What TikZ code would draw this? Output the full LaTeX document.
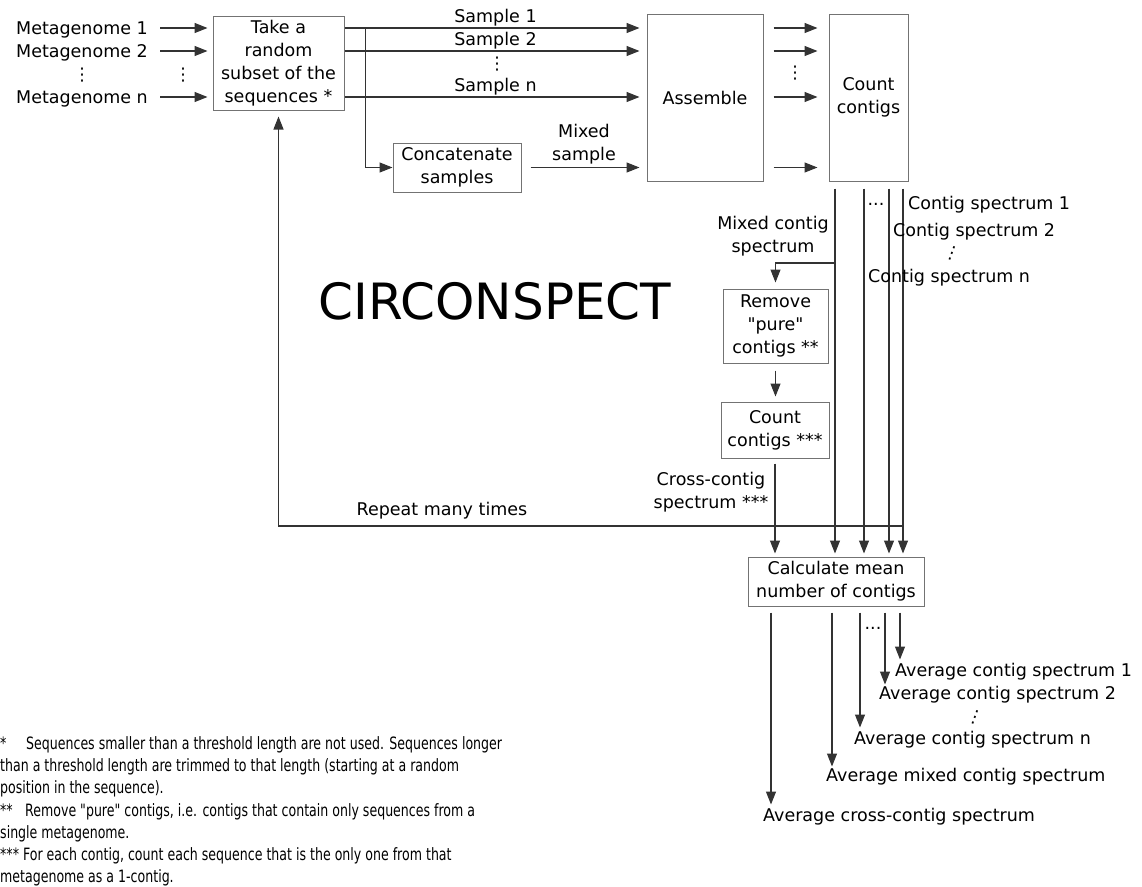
\documentclass[tikz,border=0pt]{standalone}
\usepackage{fontspec}
\setmainfont{DejaVu Sans}
\newfontfamily\notefont[FakeStretch=0.74]{DejaVu Sans}
\usetikzlibrary{arrows.meta}
\begin{document}
\begin{tikzpicture}[%
  x=1pt,
  y=-1pt,
  font=\fontsize{17.5}{23}\selectfont,
  boxstyle/.style={%
    rectangle,
    draw=black!55,
    line width=1pt,
    align=center,
    inner sep=0pt,
  },
  labelstyle/.style={%
    inner sep=0pt,
    align=center,
  },
  arrowstyle/.style={%
    draw=black!80,
    line width=1.1pt,
    -{Triangle[length=13pt,width=10pt]},
  }
]
  \useasboundingbox (0,0) rectangle (1142,886);

  \node [labelstyle, anchor=base east] (mg1) at (148,34.5) {Metagenome 1};
  \node [labelstyle, anchor=base east] (mg2) at (148,57.5) {Metagenome 2};
  \node [labelstyle, anchor=base east] (mgn) at (148,103.5) {Metagenome n};
  \node [labelstyle] (mgdots) at (82,75) {⋮};
  \node [labelstyle] (indots) at (183,75) {⋮};

  \node [boxstyle, minimum width=131pt, minimum height=94pt] (take) at (278.5,63)
    {Take a\\random\\subset of the\\sequences *};
  \node [boxstyle, minimum width=128pt, minimum height=49pt] (cat) at (457,167.5)
    {Concatenate\\samples};
  \node [boxstyle, minimum width=116pt, minimum height=167pt] (asm) at (705,97.5)
    {Assemble};
  \node [boxstyle, minimum width=79pt, minimum height=167pt] (cnt) at (868.5,97.5)
    {Count\\contigs};
  \node [boxstyle, minimum width=105pt, minimum height=74pt] (rem) at (775.5,326)
    {Remove\\\textquotedbl pure\textquotedbl\\contigs **};
  \node [boxstyle, minimum width=108pt, minimum height=56pt] (cc3) at (775,430)
    {Count\\contigs ***};
  \node [boxstyle, minimum width=176pt, minimum height=49pt] (calc) at (836,581.5)
    {Calculate mean\\number of contigs};

  \node [labelstyle, font=\fontsize{50}{60}\selectfont] (title) at (495,301) {CIRCONSPECT};

  \coordinate (r1) at (0,28);
  \coordinate (r2) at (0,51);
  \coordinate (rn) at (0,97);
  \draw [arrowstyle, shorten <=12pt, shorten >=5pt] (mg1.east |- r1) -- (take.west |- r1);
  \draw [arrowstyle, shorten <=12pt, shorten >=5pt] (mg2.east |- r2) -- (take.west |- r2);
  \draw [arrowstyle, shorten <=12pt, shorten >=5pt] (mgn.east |- rn) -- (take.west |- rn);

  \draw [arrowstyle, shorten >=7pt] (take.east |- r1) -- (asm.west |- r1)
    node [labelstyle, midway, above=1pt] (s1) {Sample 1};
  \draw [arrowstyle, shorten >=7pt] (take.east |- r2) -- (asm.west |- r2)
    node [labelstyle, midway, above=1pt] (s2) {Sample 2};
  \draw [arrowstyle, shorten >=7pt] (take.east |- rn) -- (asm.west |- rn)
    node [labelstyle, midway, above=1pt] (sn) {Sample n};
  \node [labelstyle] (sdots) at (497,64) {⋮};

  \coordinate (split) at ([xshift=21pt]take.east);
  \draw [arrowstyle] (split |- r1) |- (cat.west);
  \draw [arrowstyle, shorten <=9pt, shorten >=7pt] (cat.east) -- (asm.west |- cat.east)
    node [labelstyle, midway, above=3pt] (mixs) {Mixed\\sample};

  \foreach \r in {r1,r2,rn}
    \draw [arrowstyle, shorten <=10pt, shorten >=11pt] (asm.east |- \r) -- (cnt.west |- \r);
  \draw [arrowstyle, shorten <=10pt, shorten >=11pt] (asm.east |- cat.east) -- (cnt.west |- cat.east);
  \node [labelstyle] (adots) at (795,73) {⋮};

  \coordinate (cmix) at (835,0);
  \coordinate (cspn) at (864,0);
  \coordinate (csp2) at (889,0);
  \coordinate (csp1) at (903,0);
  \foreach \c in {cmix,cspn,csp2,csp1}
    \draw [arrowstyle, shorten <=7pt, shorten >=3pt] (cnt.south -| \c) -- (calc.north -| \c);

  \node [labelstyle] (cdots) at (876,204) {...};
  \node [labelstyle, anchor=base west] (cs1) at (908,209) {Contig spectrum 1};
  \node [labelstyle, anchor=base west] (cs2) at (893,236) {Contig spectrum 2};
  \node [labelstyle, rotate=-20] (csdots) at (952,253) {⋮};
  \node [labelstyle, anchor=base west] (csn) at (868,282) {Contig spectrum n};

  \node [labelstyle] (mixlbl) at (773,236) {Mixed contig\\spectrum};
  \coordinate (brk) at (835,263);
  \draw [arrowstyle, shorten >=6pt] (brk) -| (rem.north);
  \draw [arrowstyle, shorten <=7pt, shorten >=5pt] (rem.south) -- (rem.south |- cc3.north);
  \draw [arrowstyle, shorten <=5pt, shorten >=3pt] (cc3.south) -- (calc.north -| cc3.south);
  \node [labelstyle] (crosslbl) at (711,492) {Cross-contig\\spectrum ***};

  \coordinate (rep) at (0,526);
  \draw [arrowstyle, shorten >=6pt] (csp1 |- rep) -| (take.south);
  \node [labelstyle, anchor=base] (replbl) at (442,515) {Repeat many times};

  \coordinate (ocross) at (771,0);
  \coordinate (omix) at (832,0);
  \coordinate (ospn) at (860,0);
  \coordinate (osp2) at (885,0);
  \coordinate (osp1) at (900,0);
  \node [labelstyle, anchor=base west] (acs1) at (895,676) {Average contig spectrum 1};
  \node [labelstyle, anchor=base west] (acs2) at (879,699) {Average contig spectrum 2};
  \node [labelstyle, rotate=-20] (acsdots) at (975,717) {⋮};
  \node [labelstyle, anchor=base west] (acsn) at (854,744) {Average contig spectrum n};
  \node [labelstyle, anchor=base west] (amix) at (826,781) {Average mixed contig spectrum};
  \node [labelstyle, anchor=base west] (across) at (763,821) {Average cross-contig spectrum};
  \node [labelstyle] (odots) at (873,628) {...};
  \draw [arrowstyle, shorten <=6pt, shorten >=3pt] (calc.south -| osp1) -- (osp1 |- acs1.north);
  \draw [arrowstyle, shorten <=6pt, shorten >=1pt] (calc.south -| osp2) -- (osp2 |- acs2.north);
  \draw [arrowstyle, shorten <=6pt, shorten >=3pt] (calc.south -| ospn) -- (ospn |- acsn.north);
  \draw [arrowstyle, shorten <=6pt, shorten >=1pt] (calc.south -| omix) -- (omix |- amix.north);
  \draw [arrowstyle, shorten <=6pt, shorten >=3pt] (calc.south -| ocross) -- (ocross |- across.north);

  \node [labelstyle, anchor=north west, align=left, font=\notefont\fontsize{17}{22.3}\selectfont] (notes) at (0,736)
    {\makebox[26pt][l]{*}Sequences smaller than a threshold length are not used. Sequences longer\\
     than a threshold length are trimmed to that length (starting at a random\\
     position in the sequence).\\
     \makebox[25pt][l]{**}Remove "pure" contigs, i.e. contigs that contain only sequences from a\\
     single metagenome.\\
     *** For each contig, count each sequence that is the only one from that\\
     metagenome as a 1-contig.};
\end{tikzpicture}
\end{document}
